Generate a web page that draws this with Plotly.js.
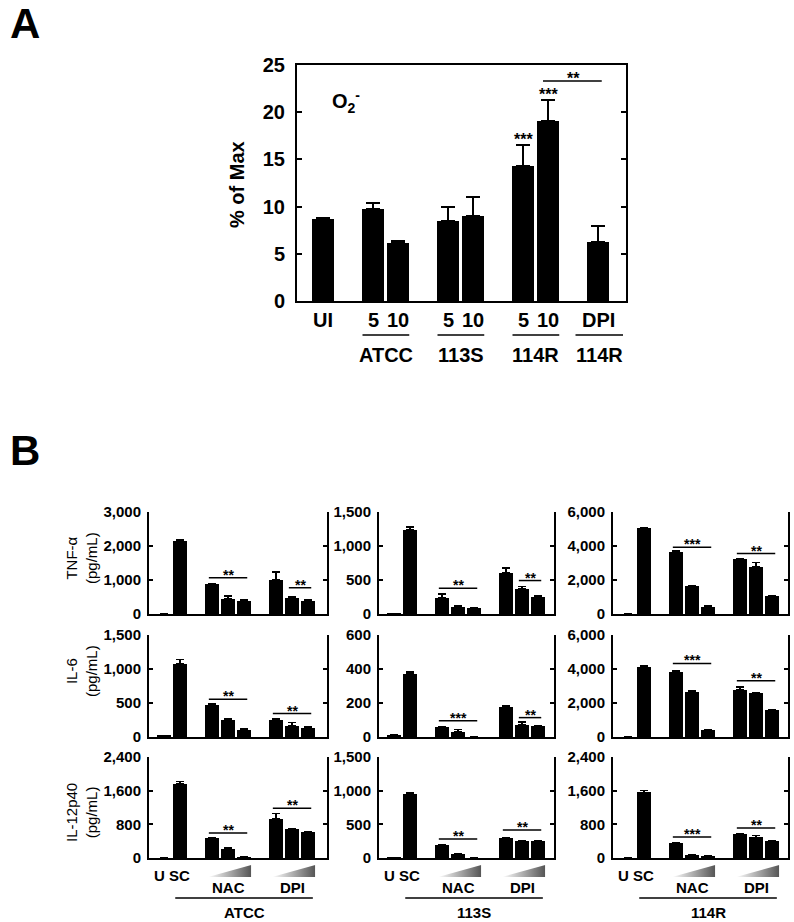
<!DOCTYPE html>
<html><head><meta charset="utf-8">
<script src="https://cdn.plot.ly/plotly-3.0.1.min.js"></script>
<style>html,body{margin:0;padding:0;background:#fff}#chart{width:794px;height:922px}</style>
</head><body><div id="chart"></div>
<script>
// ---------------- Panel A data ----------------
const aBarLabels   = ['UI','5','10','5','10','5','10','DPI'];
const aGroupLabels = ['', 'ATCC', '113S', '114R', '114R'];
const aGroupSizes  = [1, 2, 2, 2, 1];
const aValues      = [8.7, 9.7, 6.15, 8.5, 9.0, 14.3, 19.05, 6.3];
const aErrors      = [0.1, 0.7, 0.2, 1.5, 2.05, 2.2, 2.2, 1.65];
const aStarBars    = [5, 6];
const aStarLabels  = ['***', '***'];
const aBracketBars = [6, 7];
const aBracketY    = 23.3;
const aBracketText = '**';

// ---------------- Panel B data ----------------
const strains    = ['ATCC', '113S', '114R'];
const cytokines  = ['TNF-α', 'IL-6', 'IL-12p40'];
const treatments = ['U', 'SC', 'NAC', 'NAC', 'NAC', 'DPI', 'DPI', 'DPI'];
const bGroupSizes = [2, 3, 3];
const bYMax = [[3000, 1500, 6000], [1500, 600, 6000], [2400, 1500, 2400]];

// order: U, SC, NAC low/mid/high, DPI low/mid/high ; [ATCC, 113S, 114R]
const tnfMeans = [
  [0, 2160, 880, 450, 380, 1000, 480, 390],
  [10, 1240, 236, 108, 84, 610, 364, 256],
  [0, 5050, 3670, 1620, 420, 3220, 2780, 1080]
];
const tnfErrors = [
  [0, 30, 20, 80, 30, 230, 30, 20],
  [0, 40, 60, 10, 9, 70, 40, 15],
  [0, 30, 40, 40, 50, 40, 240, 20]
];
const il6Means = [
  [25, 1080, 475, 255, 110, 255, 167, 135],
  [12, 370, 56, 30, 0, 178, 73, 63],
  [0, 4130, 3810, 2650, 390, 2750, 2590, 1570]
];
const il6Errors = [
  [0, 60, 10, 10, 10, 10, 45, 10],
  [0, 14, 3, 13, 0, 5, 16, 3],
  [0, 30, 70, 40, 20, 200, 30, 20]
];
const il12Means = [
  [0, 1760, 470, 222, 24, 930, 690, 620],
  [8, 955, 198, 64, 0, 292, 252, 252],
  [0, 1560, 350, 80, 48, 562, 491, 404]
];
const il12Errors = [
  [0, 56, 10, 10, 5, 125, 10, 10],
  [0, 10, 5, 5, 0, 5, 10, 10],
  [0, 48, 10, 5, 5, 10, 48, 10]
];
// significance brackets: heights (NAC, DPI), labels, first DPI bar index
const nacBracketY = [[1065, 379, 3928], [556, 96, 4328], [594, 282, 499]];
const dpiBracketY = [[772, 492, 3557], [344, 114, 3305], [1180, 416, 713]];
const nacStars = [['**', '**', '***'], ['**', '***', '***'], ['**', '**', '***']];
const dpiStars = [['**', '**', '**'], ['**', '**', '**'], ['**', '**', '**']];
const dpiBracketStart = [[6, 6, 5], [5, 6, 5], [5, 5, 5]];

const bMeans = [tnfMeans, il6Means, il12Means];
const bErrors = [tnfErrors, il6Errors, il12Errors];

// ---------------- layout helpers ----------------
const W = 794, H = 922;
const FONT = 'Liberation Sans, Arial, sans-serif';
const px = x => x / W;
const py = y => (H - y) / H;
function positions(sizes) {
  const p = []; let x = 0;
  sizes.forEach(s => { for (let i = 0; i < s; i++) { p.push(x); x++; } x++; });
  return p;
}
const errOrNone = arr => arr.map(e => (e > 0 ? e : null));
const minusOrNone = arr => arr.map(e => (e > 0 ? 0 : null));

const traces = [];
const annotations = [];
const shapes = [];
const images = [];
const layout = {
  width: W, height: H, margin: {l: 0, r: 0, t: 0, b: 0},
  paper_bgcolor: '#fff', plot_bgcolor: '#fff', showlegend: false,
  font: {family: FONT, color: '#000'}, bargap: 0
};

// ---------------- Panel A ----------------
const aPos = positions(aGroupSizes);
traces.push({
  type: 'bar', x: aPos, y: aValues, width: 0.87, xaxis: 'x', yaxis: 'y',
  marker: {color: '#000', line: {width: 0}},
  error_y: {type: 'data', array: aErrors, arrayminus: aValues.map(() => 0), symmetric: false,
            color: '#000', thickness: 2, width: 7},
  hoverinfo: 'skip'
});
layout.xaxis = {domain: [px(297), px(626)], range: [-1.04, 12.12], showline: true, linewidth: 2,
  linecolor: '#000', mirror: true, ticks: '', showticklabels: false, showgrid: false, zeroline: false, anchor: 'y'};
layout.yaxis = {domain: [py(301), py(65)], range: [0, 25], dtick: 5, showline: true, linewidth: 2,
  linecolor: '#000', mirror: 'ticks', ticks: 'inside', ticklen: 5, tickwidth: 2, tickcolor: '#000',
  showgrid: false, zeroline: false, ticklabelstandoff: 6,
  tickfont: {family: FONT, size: 20, weight: 700, color: '#000'}, anchor: 'x'};
annotations.push({xref: 'paper', yref: 'paper', x: px(237), y: py(185), text: '<b>% of Max</b>',
  textangle: -90, showarrow: false, font: {size: 20, family: FONT}, xanchor: 'center', yanchor: 'middle'});
annotations.push({xref: 'paper', yref: 'paper', x: px(330), y: py(101), text: '<b>O<sub>2</sub><sup>-</sup></b>',
  showarrow: false, font: {size: 20, family: FONT}, xanchor: 'left', yanchor: 'middle'});
aBarLabels.forEach((t, i) => annotations.push({xref: 'x', yref: 'paper', x: aPos[i], y: py(320), text: '<b>' + t + '</b>',
  showarrow: false, font: {size: 20, family: FONT}, xanchor: 'center', yanchor: 'middle'}));
{
  let k = 0;
  aGroupSizes.forEach((s, g) => {
    const first = aPos[k], last = aPos[k + s - 1];
    k += s;
    if (!aGroupLabels[g]) return;
    const pad0 = s === 1 ? 0.9 : 0.42, pad1 = s === 1 ? 1.0 : 0.45;
    shapes.push({type: 'line', xref: 'x', yref: 'paper', x0: first - pad0, x1: last + pad1, y0: py(335), y1: py(335),
      line: {color: '#000', width: 1.5}});
    annotations.push({xref: 'x', yref: 'paper', x: (first + last) / 2 + (s === 1 ? 0.05 : 0), y: py(354.5),
      text: '<b>' + aGroupLabels[g] + '</b>', showarrow: false, font: {size: 20, family: FONT},
      xanchor: 'center', yanchor: 'middle'});
  });
}
aStarBars.forEach((b, i) => annotations.push({xref: 'x', yref: 'y', x: aPos[b], y: aValues[b] + aErrors[b],
  text: '<b>' + aStarLabels[i] + '</b>', showarrow: false, font: {size: 16, family: FONT},
  xanchor: 'center', yanchor: 'middle', yshift: 6}));
shapes.push({type: 'line', xref: 'x', yref: 'y', x0: aPos[aBracketBars[0]] - 0.2, x1: aPos[aBracketBars[1]] + 0.15,
  y0: aBracketY, y1: aBracketY, line: {color: '#000', width: 1.5}});
annotations.push({xref: 'x', yref: 'y', x: (aPos[aBracketBars[0]] + aPos[aBracketBars[1]]) / 2, y: aBracketY,
  text: '<b>' + aBracketText + '</b>', showarrow: false, font: {size: 16, family: FONT},
  xanchor: 'center', yanchor: 'middle', yshift: 3});

// ---------------- Panel B ----------------
const bPos = positions(bGroupSizes);
const colPx = [[149, 327], [379, 554], [613, 788]];
const rowPx = [[512, 614], [635, 737], [757, 858]];
const titleY = [558, 671, 813];
const wedgeSvg = "<svg xmlns='http://www.w3.org/2000/svg' width='100' height='30' viewBox='0 0 100 30' preserveAspectRatio='none'>" +
  "<defs><linearGradient id='g' x1='0' y1='0' x2='1' y2='0'><stop offset='0' stop-color='#ffffff'/>" +
  "<stop offset='1' stop-color='#555555'/></linearGradient></defs><polygon points='0,30 100,0 100,30' fill='url(#g)'/></svg>";
const wedgeSrc = 'data:image/svg+xml;utf8,' + encodeURIComponent(wedgeSvg);

cytokines.forEach((cyt, r) => {
  strains.forEach((st, c) => {
    const n = 2 + r * 3 + c;
    const xa = 'x' + n, ya = 'y' + n;
    const means = bMeans[r][c], errs = bErrors[r][c];
    traces.push({
      type: 'bar', x: bPos, y: means, width: 0.83, xaxis: xa, yaxis: ya,
      marker: {color: '#000', line: {width: 0}},
      error_y: {type: 'data', array: errOrNone(errs), arrayminus: minusOrNone(errs), symmetric: false,
                color: '#000', thickness: 1.6, width: 4},
      hoverinfo: 'skip'
    });
    const wpx = colPx[c][1] - colPx[c][0];
    layout['xaxis' + n] = {domain: [px(colPx[c][0]), px(colPx[c][1])], range: [-0.94, -0.94 + wpx / 16],
      showline: true, linewidth: 2, linecolor: '#000', ticks: '', showticklabels: false,
      showgrid: false, zeroline: false, anchor: ya};
    const ymax = bYMax[r][c];
    layout['yaxis' + n] = {domain: [py(rowPx[r][1]), py(rowPx[r][0])], range: [0, ymax], dtick: ymax / 3,
      tickformat: ',', showline: true, linewidth: 2, linecolor: '#000', mirror: 'ticks', ticks: 'inside',
      ticklen: 4, tickwidth: 2, tickcolor: '#000', showgrid: false, zeroline: false, ticklabelstandoff: 3,
      tickfont: {family: FONT, size: 15, weight: 700, color: '#000'}, anchor: xa};
    // brackets
    const nacS = bPos[2], nacE = bPos[4];
    const dpiS = bPos[dpiBracketStart[r][c]], dpiE = bPos[7];
    [[nacS, nacE, nacBracketY[r][c], nacStars[r][c]], [dpiS, dpiE, dpiBracketY[r][c], dpiStars[r][c]]].forEach(b => {
      shapes.push({type: 'line', xref: xa, yref: ya, x0: b[0] - 0.2, x1: b[1] + 0.2, y0: b[2], y1: b[2],
        line: {color: '#000', width: 1.5}});
      annotations.push({xref: xa, yref: ya, x: (b[0] + b[1]) / 2, y: b[2], text: '<b>' + b[3] + '</b>',
        showarrow: false, font: {size: 14, family: FONT}, xanchor: 'center', yanchor: 'middle', yshift: 3});
    });
    // bottom labels (only under last row)
    if (r === 2) {
      annotations.push({xref: xa, yref: 'paper', x: (bPos[0] + bPos[1]) / 2, y: py(875),
        text: '<b>' + treatments[0] + ' ' + treatments[1] + '</b>', showarrow: false,
        font: {size: 15, family: FONT}, xanchor: 'center', yanchor: 'middle'});
      [[2, 4], [5, 7]].forEach(g => {
        const s = bPos[g[0]], e = bPos[g[1]];
        images.push({source: wedgeSrc, xref: xa, yref: 'paper', x: s - 0.25, y: py(865),
          sizex: (e + 0.45) - (s - 0.25), sizey: 12 / H, sizing: 'stretch', xanchor: 'left', yanchor: 'top',
          layer: 'above'});
        annotations.push({xref: xa, yref: 'paper', x: (s + e) / 2, y: py(887), text: '<b>' + treatments[g[0]] + '</b>',
          showarrow: false, font: {size: 15, family: FONT}, xanchor: 'center', yanchor: 'middle'});
      });
      shapes.push({type: 'line', xref: xa, yref: 'paper', x0: bPos[0] + 0.7, x1: bPos[7] + 0.3,
        y0: py(898), y1: py(898), line: {color: '#000', width: 1.5}});
      annotations.push({xref: xa, yref: 'paper', x: (bPos[0] + 0.7 + bPos[7] + 0.3) / 2, y: py(912),
        text: '<b>' + st + '</b>', showarrow: false, font: {size: 15, family: FONT},
        xanchor: 'center', yanchor: 'middle'});
    }
  });
  annotations.push({xref: 'paper', yref: 'paper', x: px(81), y: py(titleY[r]), text: cyt + '<br>(pg/mL)',
    textangle: -90, showarrow: false, font: {size: 15, family: FONT}, xanchor: 'center', yanchor: 'middle'});
});

// panel letters
annotations.push({xref: 'paper', yref: 'paper', x: px(25), y: py(23), text: '<b>A</b>', showarrow: false,
  font: {size: 42, family: FONT}, xanchor: 'center', yanchor: 'middle'});
annotations.push({xref: 'paper', yref: 'paper', x: px(25), y: py(450), text: '<b>B</b>', showarrow: false,
  font: {size: 42, family: FONT}, xanchor: 'center', yanchor: 'middle'});

layout.annotations = annotations;
layout.shapes = shapes;
layout.images = images;
Plotly.newPlot('chart', traces, layout, {staticPlot: true, displayModeBar: false});
</script>
</body></html>
